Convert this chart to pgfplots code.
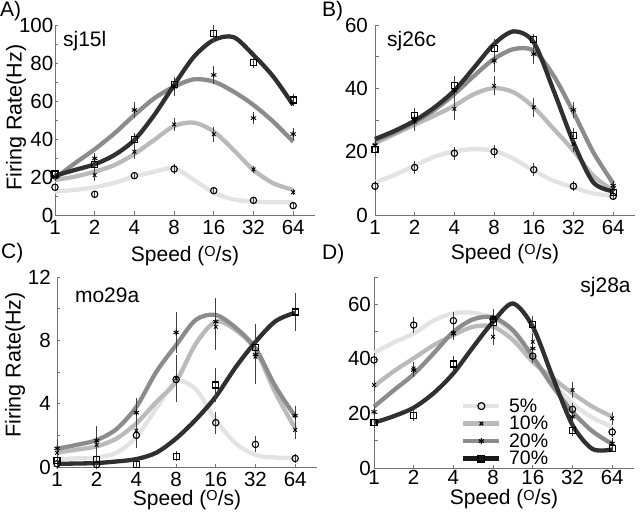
\documentclass[border=0pt]{standalone}
\usepackage{pgfplots}
\usepackage{pgfplotstable}
\pgfplotsset{compat=1.18}
\usepackage{fontspec}
\setmainfont{Liberation Sans}
\definecolor{cA}{HTML}{E3E3E3}
\definecolor{cB}{HTML}{BABABA}
\definecolor{cC}{HTML}{8C8C8C}
\definecolor{cD}{HTML}{303030}
\newcommand{\spd}{Speed (\raisebox{4.5pt}{\fontsize{14.5}{14.5}\selectfont O}/s)}

% ---------- Panel A ----------
\pgfplotstableread{
x m5 e5 m10 e10 m20 e20 m70 e70
0 14.6 1.5 20.0 2 20.0 2 21.6 1.5
1 10.9 1.5 21.0 3 29.8 3 26.7 2.5
2 20.7 2 33.3 4 55.3 4 39.8 3.5
3 24.2 2.5 47.7 3.5 67.5 5 68.8 3
4 12.8 2 42.5 4 73.7 4.5 95.3 4.5
5 7.7 1.5 24.0 2 51.0 3 80.4 3
6 4.9 1.2 12.0 1.5 42.6 3 60.5 3
}\ptsA
\pgfplotstableread{
x c5 c10 c20 c70
0 12.3 18.4 19.3 20.7
0.5 13.2 20.2 27.2 23.7
1 14.6 22.8 34.6 26.7
1.5 17.0 26.3 43.0 31.6
2 20.2 32.1 52.6 39.5
2.5 22.8 39.5 61.4 52.6
3 24.6 46.8 67.5 68.4
3.5 18.5 48.6 71.4 83.3
4 11.8 43.9 70.2 92.1
4.5 8.2 34.2 64.9 93.6
5 7.0 23.7 57.9 84.2
5.5 6.7 16.7 49.1 72.8
6 6.7 13.2 38.6 57.9
}\crvA
% ---------- Panel B ----------
\pgfplotstableread{
x m5 e5 m10 e10 m20 e20 m70 e70
0 9.1 1.5 22.0 2 22.0 2 20.6 2
1 15.0 2 29.5 3 30.5 3 31.4 2.5
2 19.5 2 33.5 3.5 39.3 3.5 40.8 3
3 20.0 2 40.8 3 48.7 3.5 52.6 3
4 14.3 2 34.0 3 50.8 3 55.3 2
5 9.1 1.5 22.4 2.5 33.2 2.5 25.0 2.5
6 5.9 1 8.2 1.5 9.3 1.5 7.2 1
}\ptsB
\pgfplotstableread{
x c5 c10 c20 c70
0 10.3 22.6 23.5 24.0
0.5 12.7 25.6 26.1 26.6
1 15.6 28.5 29.3 29.8
1.5 18.4 31.4 33.2 34.0
2 20.1 34.5 38.2 39.3
2.5 20.8 38.2 44.0 46.6
3 20.3 40.1 49.3 54.0
3.5 17.7 38.7 52.4 58.0
4 14.0 34.0 51.9 54.5
4.5 10.8 27.2 44.0 39.3
5 8.7 20.3 32.4 22.9
5.5 6.8 12.4 19.8 10.3
6 6.1 7.7 10.0 7.5
}\crvB
% ---------- Panel C ----------
\pgfplotstableread{
x m5 e5 m10 e10 m20 e20 m70 e70
0 0.2 0.3 0.9 0.5 1.18 0.6 0.4 0.3
1 0.15 0.3 1.4 0.7 1.66 0.9 0.5 0.3
2 2.0 0.8 2.3 1.0 3.43 0.9 0.17 0.2
3 5.53 1.0 5.6 1.5 8.5 1.3 0.68 0.3
4 2.8 0.7 8.86 1.5 9.18 1.5 5.18 1.1
5 1.43 0.5 6.97 1.7 7.1 1.7 7.56 1.5
6 0.54 0.3 2.34 0.6 3.24 0.6 9.79 1.2
}\ptsC
\pgfplotstableread{
x c5 c10 c20 c70
0 0.48 0.9 1.15 0.2
0.5 0.55 1.1 1.4 0.22
1 0.6 1.3 1.7 0.25
1.5 0.9 1.8 2.4 0.35
2 1.9 2.76 3.8 0.5
2.5 3.7 4.1 6.0 0.9
3 5.4 5.4 7.7 1.8
3.5 4.9 7.8 9.3 3.0
4 2.97 9.18 9.6 4.44
4.5 1.5 8.65 8.8 6.3
5 0.76 7.4 7.5 7.9
5.5 0.6 4.7 5.1 9.2
6 0.56 2.44 3.2 9.75
}\crvC
% ---------- Panel D ----------
\pgfplotstableread{
x m5 e5 m10 e10 m20 e20 m70 e70
0 39.6 2.5 30.4 2 20.6 2 16.6 2
1 52.4 3 36.5 2.5 35.9 2.5 19.4 2
2 54.0 3 49.4 2.5 49.3 2.5 38.1 3
3 54.5 3 48.1 3 55.2 3 53.2 3
4 41.0 2.5 46.3 3 43.8 3 52.7 3
5 21.5 2.5 28.6 3 18.8 2.5 13.7 2
6 13.2 2 18.2 2.5 9.0 2 7.2 1.5
}\ptsD
\pgfplotstableread{
x c5 c10 c20 c70
0 42.2 30.0 22.5 16.6
0.5 46.0 35.5 28.5 19.0
1 49.3 40.2 34.4 22.1
1.5 54.0 45.0 42.0 27.4
2 56.7 48.7 49.9 34.7
2.5 56.9 51.8 54.5 44.4
3 54.8 51.8 55.2 53.6
3.5 49.3 46.9 50.5 60.3
4 40.2 38.9 40.8 51.8
4.5 31.5 33.0 30.0 33.4
5 23.7 27.4 20.6 15.8
5.5 18.5 22.5 13.5 7.0
6 15.1 18.8 8.8 6.8
}\crvD

\pgfplotsset{
 panel/.style={scale only axis, width=260pt, height=190pt, xmin=0, xmax=6.55, ymin=0,
  axis lines*=left, axis line style={black!55, line width=0.6pt},
  tick align=inside, major tick length=3.5pt, tick style={black!55, line width=0.6pt},
  xtick={0,...,6}, xticklabels={1,2,4,8,16,32,64},
  font=\fontsize{20.5}{24}\selectfont,
  clip=false,
  xlabel={\spd},
  xlabel style={font=\fontsize{21}{24}\selectfont, at={(axis description cs:0.5,0)}, anchor=base, inner sep=0pt},
  ylabel style={font=\fontsize{21.5}{24}\selectfont, at={(axis description cs:0,0.5)}, anchor=center, inner sep=0pt},
  xticklabel style={inner ysep=5pt},
 },
 curve/.style={smooth, line width=4.3pt, no markers},
 pts/.style={only marks, black, mark options={solid, draw=black, fill=white, line width=1.1pt},
  error bars/y dir=both, error bars/y explicit, error bars/error mark=none,
  error bars/error bar style={line width=0.7pt, black!75}},
}
\newcommand{\panelplots}[2]{%
 \addplot[curve, cA] table[x=x,y=c5]{#2};
 \addplot[curve, cB] table[x=x,y=c10]{#2};
 \addplot[curve, cC] table[x=x,y=c20]{#2};
 \addplot[curve, cD] table[x=x,y=c70]{#2};
 \addplot[pts, mark=o, mark size=3.2pt] table[x=x,y=m5,y error=e5]{#1};
 \addplot[pts, mark=x, mark size=2.6pt, mark options={line width=0.9pt}] table[x=x,y=m10,y error=e10]{#1};
 \addplot[pts, mark=asterisk, mark size=3pt, mark options={line width=0.9pt}] table[x=x,y=m20,y error=e20]{#1};
 \addplot[pts, mark=square, mark size=3pt] table[x=x,y=m70,y error=e70]{#1};
}

\begin{document}
\begin{tikzpicture}
\path[use as bounding box] (0pt,0pt) rectangle (640pt,515pt);
\tikzset{plab/.style={anchor=base west, inner sep=0pt, font=\fontsize{21}{24}\selectfont}}
\node[plab] at (0pt,498.5pt) {A)};
\node[plab] at (322pt,498.5pt) {B)};
\node[plab] at (1pt,257pt) {C)};
\node[plab] at (322pt,256pt) {D)};

% A
\begin{axis}[panel, at={(55pt,300pt)}, anchor=south west, ymax=100,
  ytick={0,10,...,100}, yticklabels={0,,20,,40,,60,,80,,100},
  yticklabel style={inner xsep=1.5pt},
  ylabel={Firing Rate(Hz)}, ylabel style={yshift=39pt, xshift=2.5pt},
  xlabel style={yshift=-46pt}]
\panelplots{\ptsA}{\crvA}
\node[anchor=base west, inner sep=0pt, font=\fontsize{21}{24}\selectfont] at (axis cs:0.2,88.6) {sj15l};
\end{axis}

% B
\begin{axis}[panel, at={(375pt,300pt)}, anchor=south west, ymax=60,
  ytick={0,10,...,60}, yticklabels={0,,20,,40,,60},
  yticklabel style={inner xsep=7pt},
  xlabel style={yshift=-44pt}]
\panelplots{\ptsB}{\crvB}
\node[anchor=base west, inner sep=0pt, font=\fontsize{21}{24}\selectfont] at (axis cs:0.3,53.1) {sj26c};
\end{axis}

% C
\begin{axis}[panel, at={(57pt,48pt)}, anchor=south west, ymax=12,
  ytick={0,2,...,12}, yticklabels={0,,4,,8,,12},
  yticklabel style={inner xsep=6pt},
  ylabel={Firing Rate(Hz)}, ylabel style={yshift=42pt, xshift=7pt},
  xlabel style={yshift=-38pt}]
\panelplots{\ptsC}{\crvC}
\node[anchor=base west, inner sep=0pt, font=\fontsize{21}{24}\selectfont] at (axis cs:0.45,10.36) {mo29a};
\end{axis}

% D
\begin{axis}[panel, at={(374pt,47pt)}, anchor=south west, ymax=70, height=191pt,
  ytick={0,10,...,70}, yticklabels={0,,20,,40,,60,},
  yticklabel style={inner xsep=3pt},
  xticklabel style={inner ysep=2pt},
  xlabel style={yshift=-36.5pt},
  legend cell align=left,
  legend style={at={(axis cs:2.19,25.6)}, anchor=north west, draw=none, fill=none,
    inner sep=0pt, row sep=2pt, column sep=7.5pt,
    font=\fontsize{19.5}{22}\selectfont, nodes={inner sep=0pt}},
  legend image code/.code={\draw[mark repeat=2,mark phase=2,#1] plot coordinates {(0pt,0pt) (18pt,0pt) (36pt,0pt)};}]
\pgfplotsset{every axis plot/.append style={forget plot}}
\panelplots{\ptsD}{\crvD}
\node[anchor=base east, inner sep=0pt, font=\fontsize{21}{24}\selectfont] at (axis cs:6.47,64.5) {sj28a};
\addlegendimage{line width=4.5pt, cA, mark=o, mark options={solid, draw=black, fill=white, line width=1.2pt, mark size=3.5pt}}
\addlegendentry{\raisebox{0pt}[14pt][0pt]{5\%}}
\addlegendimage{line width=4.5pt, cB, mark=x, mark options={solid, draw=black, line width=1.1pt, mark size=2.5pt}}
\addlegendentry{\raisebox{0pt}[14pt][0pt]{10\%}}
\addlegendimage{line width=4.5pt, cC, mark=asterisk, mark options={solid, draw=black, line width=1.1pt, mark size=3pt}}
\addlegendentry{\raisebox{0pt}[14pt][0pt]{20\%}}
\addlegendimage{line width=4.5pt, black!90, mark=square, mark options={solid, draw=black, fill=white, line width=1.2pt, mark size=3.3pt}}
\addlegendentry{\raisebox{0pt}[14pt][0pt]{70\%}}
\end{axis}
\end{tikzpicture}
\end{document}
